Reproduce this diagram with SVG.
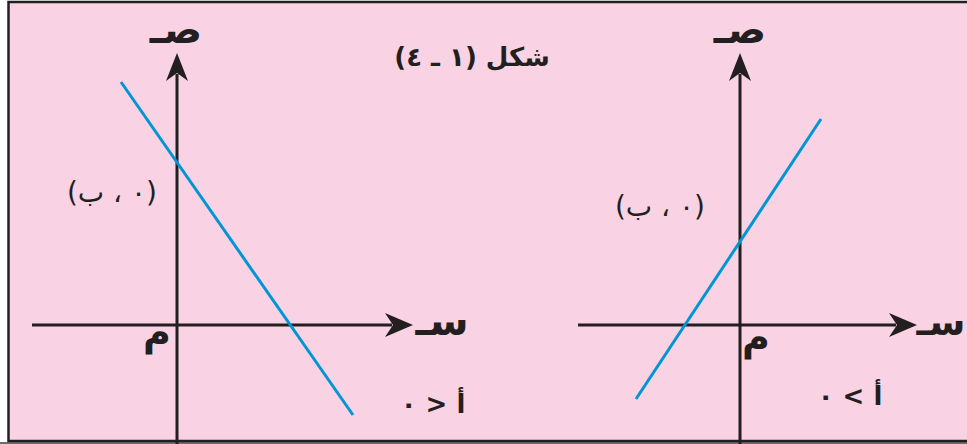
<svg xmlns="http://www.w3.org/2000/svg" width="967" height="444" viewBox="0 0 967 444">
<style>
.frame{fill:#f9d3e3;stroke:#231f20;stroke-width:2.5}
.axis{stroke:#231f20;stroke-width:3;fill:none}
.line{stroke:#0096d6;stroke-width:3;fill:none}
.head{fill:#231f20}
.t{font-family:"DejaVu Sans","Noto Sans",sans-serif;fill:#231f20;text-anchor:middle}
.ax{font-size:40px;font-weight:bold}
.title{font-size:26px;font-weight:bold}
.pt{font-size:28px}
.o{font-size:38px;font-weight:bold}
.cond{font-size:26px;font-weight:bold}
</style>
<rect x="0" y="0" width="967" height="444" fill="#ffffff"/>
<rect x="0" y="442" width="967" height="2" fill="#6d6e70"/>
<rect class="frame" x="8.5" y="2" width="970" height="439"/>

<g id="title">
<text class="t title" x="472" y="66" direction="rtl">شكل (١ ـ ٤)</text>
</g>

<g id="connectors">
<!-- left graph axes -->
<line class="axis" x1="177" y1="444" x2="177" y2="74"/>
<polygon class="head" points="177,53 188,81 177,73 166,81"/>
<line class="axis" x1="32" y1="325" x2="392" y2="325"/>
<polygon class="head" points="413,325 385,337 393,325 385,313"/>
<!-- right graph axes -->
<line class="axis" x1="740" y1="444" x2="740" y2="74"/>
<polygon class="head" points="740,53 751,81 740,73 729,81"/>
<line class="axis" x1="578" y1="325" x2="896" y2="325"/>
<polygon class="head" points="917,325 889,337 897,325 889,313"/>
<!-- lines -->
<line class="line" x1="121" y1="82" x2="353" y2="415"/>
<line class="line" x1="636" y1="399" x2="821" y2="119"/>
</g>

<g id="left-graph">
<text class="t ax" x="176" y="43">صـ</text>
<text class="t ax" x="442" y="335">سـ</text>
<text class="t o" x="157" y="345">م</text>
<text class="t pt" x="112" y="202" direction="rtl">(٠ ، ب)</text>
<text class="t cond" x="433" y="413" direction="rtl">أ &lt; ٠</text>
</g>

<g id="right-graph">
<text class="t ax" x="740" y="43">صـ</text>
<text class="t ax" x="941" y="335" style="font-size:37px">سـ</text>
<text class="t o" x="756" y="350">م</text>
<text class="t pt" x="660" y="216" direction="rtl">(٠ ، ب)</text>
<text class="t cond" x="850" y="405" direction="rtl">أ &gt; ٠</text>
</g>
</svg>
